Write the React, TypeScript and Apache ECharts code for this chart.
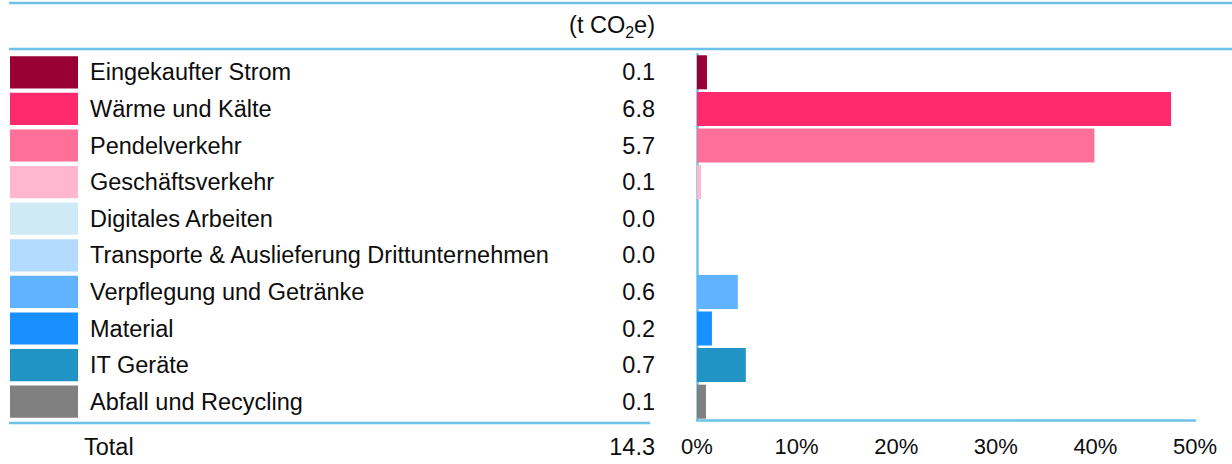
import React, { useEffect, useRef } from "react";
import * as echarts from "echarts";

const categories = [
  "Eingekaufter Strom",
  "Wärme und Kälte",
  "Pendelverkehr",
  "Geschäftsverkehr",
  "Digitales Arbeiten",
  "Transporte & Auslieferung Drittunternehmen",
  "Verpflegung und Getränke",
  "Material",
  "IT Geräte",
  "Abfall und Recycling",
];
const tonnes = [0.1, 6.8, 5.7, 0.1, 0.0, 0.0, 0.6, 0.2, 0.7, 0.1];
const sharePercent = [1.0, 47.6, 39.9, 0.4, 0.0, 0.0, 4.1, 1.5, 4.9, 0.9];
const colors = [
  "#990033",
  "#FF2A6D",
  "#FF7099",
  "#FFB6CE",
  "#D0EAF5",
  "#B3DAFF",
  "#62B3FF",
  "#1890FF",
  "#2193C4",
  "#808080",
];
const totalLabel = "Total";
const totalValue = 14.3;
const xTicks = [0, 10, 20, 30, 40, 50];

const FONT = "'Liberation Sans', Arial, sans-serif";
const TXT = "#0d0d0d";
const LINE = "#6EC1E8";
const FS = 23.5;

export default function App() {
  const ref = useRef<HTMLDivElement>(null);
  useEffect(() => {
    if (!ref.current) return;
    const chart = echarts.init(ref.current, null, { renderer: "svg" });
    const option: any = {
      animation: false,
      textStyle: { fontFamily: FONT },
      grid: [
        { left: 10, top: 54, width: 68, height: 366, containLabel: false },
        { left: 697, top: 54, width: 498, height: 366, containLabel: false },
      ],
      xAxis: [
        { gridIndex: 0, type: "value", min: 0, max: 1, show: false },
        {
          gridIndex: 1,
          type: "value",
          min: xTicks[0],
          max: xTicks[xTicks.length - 1],
          interval: 10,
          axisLine: { show: true, lineStyle: { color: LINE, width: 2.5 } },
          axisTick: { show: false },
          splitLine: { show: false },
          axisLabel: {
            formatter: "{value}%",
            fontSize: 22,
            color: TXT,
            fontFamily: FONT,
            margin: 15,
          },
        },
      ],
      yAxis: [
        {
          gridIndex: 0,
          type: "category",
          data: categories,
          inverse: true,
          position: "right",
          axisLine: { show: false },
          axisTick: { show: false },
          axisLabel: {
            margin: 12,
            formatter: (v: string, i: number) =>
              `{n|${v}}{v|${tonnes[i].toFixed(1)}}`,
            rich: {
              n: { width: 480, align: "left", fontSize: FS, color: TXT, fontFamily: FONT },
              v: { width: 85, align: "right", fontSize: FS, color: TXT, fontFamily: FONT },
            },
          },
        },
        {
          gridIndex: 1,
          type: "category",
          data: categories,
          inverse: true,
          axisLine: { show: true, lineStyle: { color: LINE, width: 2.5 } },
          axisTick: { show: false },
          axisLabel: { show: false },
        },
      ],
      series: [
        {
          type: "bar",
          xAxisIndex: 0,
          yAxisIndex: 0,
          barCategoryGap: "12%",
          data: categories.map((_, i) => ({ value: 1, itemStyle: { color: colors[i] } })),
          silent: true,
        },
        {
          type: "bar",
          xAxisIndex: 1,
          yAxisIndex: 1,
          barCategoryGap: "7%",
          data: sharePercent.map((v, i) => ({ value: v, itemStyle: { color: colors[i] } })),
          silent: true,
        },
      ],
      graphic: [
        { type: "line", shape: { x1: 9, y1: 3, x2: 1232, y2: 3 }, style: { stroke: LINE, lineWidth: 2.5 } },
        { type: "line", shape: { x1: 9, y1: 49, x2: 1232, y2: 49 }, style: { stroke: LINE, lineWidth: 2.5 } },
        { type: "line", shape: { x1: 9, y1: 423, x2: 650, y2: 423 }, style: { stroke: LINE, lineWidth: 2.5 } },
        {
          type: "text",
          x: 655,
          y: 25,
          style: {
            text: "{a|(t CO}{s|2}{a|e)}",
            align: "right",
            verticalAlign: "middle",
            rich: {
              a: { fontSize: FS, lineHeight: 30, fill: TXT, fontFamily: FONT },
              s: { fontSize: 16, lineHeight: 16, verticalAlign: "bottom", fill: TXT, fontFamily: FONT },
            },
          },
        },
        {
          type: "text",
          x: 84,
          y: 447,
          style: { text: totalLabel, fontSize: FS, fill: TXT, fontFamily: FONT, align: "left", verticalAlign: "middle" },
        },
        {
          type: "text",
          x: 655,
          y: 447,
          style: { text: totalValue.toFixed(1), fontSize: FS, fill: TXT, fontFamily: FONT, align: "right", verticalAlign: "middle" },
        },
      ],
    };
    chart.setOption(option);
    return () => chart.dispose();
  }, []);
  return (
    <div
      ref={ref}
      style={{ position: "fixed", left: 0, top: 0, width: 1232, height: 464, background: "#fff" }}
    />
  );
}
